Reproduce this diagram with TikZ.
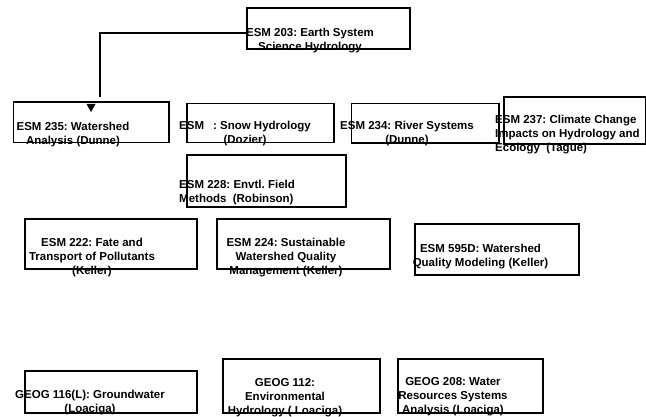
\documentclass[tikz,border=0pt]{standalone}
\usepackage{fontspec}
\setmainfont{Liberation Sans}
\begin{document}
\frenchspacing
\begin{tikzpicture}[x=1pt,y=-1pt,
  box/.style={draw, line width=1.7pt, inner sep=0pt, anchor=north west},
  lbl/.style={font=\fontsize{11.5}{14}\selectfont\bfseries\frenchspacing, inner sep=0pt, align=center, anchor=north},
  lbll/.style={font=\fontsize{11.5}{14}\selectfont\bfseries\frenchspacing, inner sep=0pt, align=left, anchor=north west},
  conn/.style={line width=1.7pt}]
\useasboundingbox[fill=white] (0,0) rectangle (646,417);

% texts
\node[lbl] (t203) at (310,27.7) {ESM 203: Earth System\\Science Hydrology};
\node[lbl] (t235) at (73,121.7) {ESM 235: Watershed\\Analysis (Dunne)};
\node[lbl] (tsnow) at (245,120.7) {ESM\hspace{9pt}: Snow Hydrology\\(Dozier)};
\node[lbl] (t234) at (407,120.7) {ESM 234: River Systems\\(Dunne)};
\node[lbll] (t237) at (495,114.7) {ESM 237: Climate Change\\Impacts on Hydrology and\\Ecology\ \ (Tague)};
\node[lbll] (t228) at (179,179.7) {ESM 228: Envtl. Field\\Methods\ \ (Robinson)};
\node[lbl] (t222) at (92,237.7) {ESM 222: Fate and\\Transport of Pollutants\\(Keller)};
\node[lbl] (t224) at (286,237.7) {ESM 224: Sustainable\\Watershed Quality\\Management (Keller)};
\node[lbl] (t595) at (480.5,243.7) {ESM 595D: Watershed\\Quality Modeling (Keller)};
\node[lbl] (tg116) at (90,389.7) {GEOG 116(L): Groundwater\\(Loaciga)};
\node[lbl] (tg112) at (285,378.7) {GEOG 112:\\Environmental\\Hydrology ( Loaciga)};
\node[lbl] (tg208) at (453,377.7) {GEOG 208: Water\\Resources Systems\\Analysis (Loaciga)};

% boxes
\node[box, minimum width=163pt, minimum height=41pt] (b203) at (246,7) {};
\node[box, minimum width=155.3pt, minimum height=40.7pt] (b235) at (12.7,101) {};
\node[box, minimum width=147pt, minimum height=39pt] (bsnow) at (186,102.7) {};
\node[box, minimum width=147.3pt, minimum height=39.3pt] (b234) at (350.7,102.7) {};
\node[box, minimum width=142pt, minimum height=47pt] (b237) at (503,96) {};
\node[box, minimum width=159pt, minimum height=52pt] (b228) at (186,154) {};
\node[box, minimum width=172pt, minimum height=50pt] (b222) at (24,218) {};
\node[box, minimum width=173pt, minimum height=50pt] (b224) at (216,218) {};
\node[box, minimum width=164pt, minimum height=51pt] (b595) at (414,223) {};
\node[box, minimum width=172pt, minimum height=42pt] (bg116) at (24,370) {};
\node[box, minimum width=157pt, minimum height=54pt] (bg112) at (222,358) {};
\node[box, minimum width=145pt, minimum height=54pt] (bg208) at (397,358) {};

% connector
\path (b203.west) ++(0,4.5) coordinate (j203);
\path (b235.north west) ++(87.3,-4) coordinate (j235);
\draw[conn] (j203) -| (j235);
\path (b235.north west) ++(73.8,3) coordinate (a235);
\fill (a235) -- ++(9,0) -- ++(-4.5,8) -- cycle;
\end{tikzpicture}
\end{document}
